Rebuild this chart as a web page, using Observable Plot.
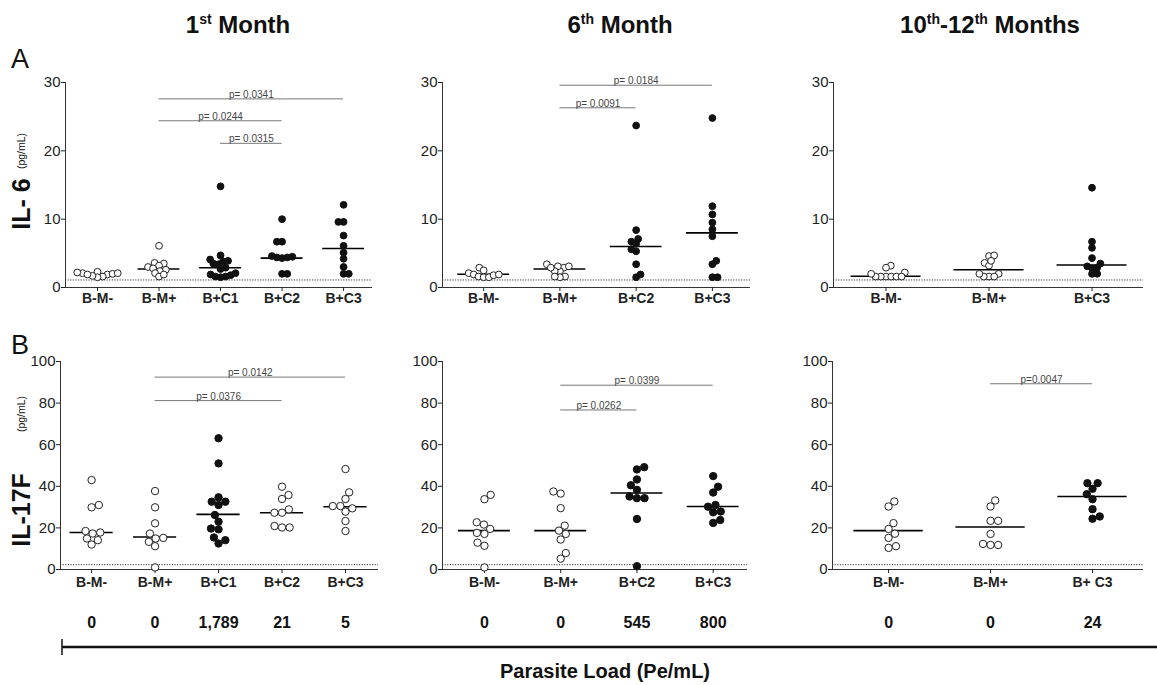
<!DOCTYPE html>
<html>
<head>
<meta charset="utf-8">
<script src="https://cdn.jsdelivr.net/npm/d3@7"></script>
<script src="https://cdn.jsdelivr.net/npm/@observablehq/plot@0.6"></script>
<style>
  body { margin: 0; background: #fff; }
  #chart { position: relative; width: 1157px; height: 685px; font-family: "Liberation Sans", Arial, sans-serif; }
  #chart svg { position: absolute; }
</style>
</head>
<body>
<div id="chart"></div>
<script>
// ---------- categories ----------
const cats_m1 = ["B-M-", "B-M+", "B+C1", "B+C2", "B+C3"];
const cats_m6 = ["B-M-", "B-M+", "B+C2", "B+C3"];
const cats_m12 = ["B-M-", "B-M+", "B+C3"];
const labels_m12_il17 = ["B-M-", "B-M+", "B+ C3"];

// ---------- IL-6 (pg/mL) ----------
const il6_m1_BMneg = [2.3, 2.1, 2.2, 1.9, 1.6, 1.5, 1.7, 1.9, 2.0, 2.1];
const il6_m1_BMpos = [6.1, 3.6, 3.5, 3.2, 3.0, 2.8, 2.6, 2.4, 2.1, 1.6, 1.9];
const il6_m1_C1 = [14.8, 4.7, 4.1, 3.9, 3.8, 3.5, 3.4, 2.9, 2.7, 2.1, 1.8, 1.6, 1.5, 1.6, 1.9];
const il6_m1_C2 = [10.0, 6.7, 6.7, 4.6, 4.5, 4.4, 4.4, 4.3, 2.0, 2.0];
const il6_m1_C3 = [12.1, 9.6, 9.6, 7.6, 6.1, 5.1, 4.2, 3.0, 2.0, 2.0];
const il6_m1_median = [2.0, 2.7, 2.9, 4.3, 5.7];

const il6_m6_BMneg = [2.9, 2.1, 1.9, 1.6, 1.5, 1.5, 1.8, 1.9, 2.5];
const il6_m6_BMpos = [2.9, 2.4, 3.1, 3.1, 3.4, 2.4, 2.9, 1.6, 1.5, 1.6];
const il6_m6_C2 = [23.7, 8.4, 7.1, 6.7, 6.4, 5.6, 5.3, 3.4, 1.5, 1.9];
const il6_m6_C3 = [24.8, 11.9, 10.7, 9.5, 8.5, 7.5, 3.9, 3.4, 1.5, 1.5];
const il6_m6_median = [1.95, 2.7, 6.0, 8.0];

const il6_m12_BMneg = [2.2, 1.6, 1.6, 1.6, 1.6, 1.6, 1.6, 3.2, 2.0, 2.9];
const il6_m12_BMpos = [4.6, 4.7, 3.6, 3.2, 3.9, 2.0, 1.6, 1.6, 1.6, 2.0];
const il6_m12_C3 = [14.6, 6.7, 5.8, 4.3, 3.1, 2.8, 2.0, 2.0, 2.9, 3.5];
const il6_m12_median = [1.65, 2.6, 3.3];

// ---------- IL-17F (pg/mL) ----------
const il17_m1_BMneg = [43.0, 29.9, 31.0, 17.3, 14.9, 12.0, 17.8, 14.1, 18.5];
const il17_m1_BMpos = [37.7, 29.9, 22.2, 17.3, 15.2, 13.3, 11.2, 14.9, 1.0];
const il17_m1_C1 = [63.1, 51.0, 32.6, 32.6, 31.0, 34.7, 26.2, 23.0, 19.7, 19.3, 15.4, 14.1, 12.5];
const il17_m1_C2 = [39.8, 35.8, 33.9, 27.3, 27.3, 28.9, 20.9, 20.2, 20.2];
const il17_m1_C3 = [48.3, 37.1, 33.9, 30.5, 27.8, 29.4, 30.5, 23.3, 18.5];
const il17_m1_median = [17.8, 15.6, 26.5, 27.3, 30.2];

const il17_m6_BMneg = [33.8, 35.9, 22.7, 21.6, 19.5, 17.1, 17.6, 12.9, 11.4, 1.0];
const il17_m6_BMpos = [36.5, 37.5, 29.5, 21.1, 17.1, 18.7, 14.4, 7.9, 5.2];
const il17_m6_C2 = [48.1, 49.2, 43.3, 40.5, 38.3, 35.1, 34.3, 34.3, 24.3, 1.6];
const il17_m6_C3 = [44.9, 39.8, 37.0, 31.0, 30.2, 27.9, 27.5, 23.8, 22.4];
const il17_m6_median = [18.7, 18.7, 36.8, 30.3];

const il17_m12_BMneg = [32.7, 30.3, 22.3, 17.2, 19.5, 15.2, 10.4, 11.2];
const il17_m12_BMpos = [33.2, 30.3, 23.4, 23.4, 17.1, 12.3, 11.8, 11.8];
const il17_m12_C3 = [41.5, 41.5, 38.8, 36.2, 33.8, 29.0, 24.4, 25.5];
const il17_m12_median = [18.7, 20.4, 35.1];

// ---------- filled (infected) flags ----------
const filled_il6_m1 = [false, false, true, true, true];
const filled_il17_m1 = [false, false, true, false, false];
const filled_m6 = [false, false, true, true];
const filled_m12 = [false, false, true];

// ---------- significance brackets ----------
const brackets_il6_m1 = [
  {from: "B-M+", to: "B+C3", y: 27.6, label: "p= 0.0341"},
  {from: "B-M+", to: "B+C2", y: 24.4, label: "p= 0.0244"},
  {from: "B+C1", to: "B+C2", y: 21.1, label: "p= 0.0315"}
];
const brackets_il6_m6 = [
  {from: "B-M+", to: "B+C3", y: 29.6, label: "p= 0.0184"},
  {from: "B-M+", to: "B+C2", y: 26.3, label: "p= 0.0091"}
];
const brackets_il17_m1 = [
  {from: "B-M+", to: "B+C3", y: 92.5, label: "p= 0.0142"},
  {from: "B-M+", to: "B+C2", y: 81.2, label: "p= 0.0376"}
];
const brackets_il17_m6 = [
  {from: "B-M+", to: "B+C3", y: 88.6, label: "p= 0.0399"},
  {from: "B-M+", to: "B+C2", y: 76.7, label: "p= 0.0262"}
];
const brackets_il17_m12 = [
  {from: "B-M+", to: "B+C3", y: 89.3, label: "p=0.0047"}
];

// ---------- parasite load (Pe/mL) ----------
const load_m1 = ["0", "0", "1,789", "21", "5"];
const load_m6 = ["0", "0", "545", "800"];
const load_m12 = ["0", "0", "24"];

// ---------- detection limits ----------
const lod_il6 = 1.1;
const lod_il17 = 2.3;

const ticks_il6 = [0, 10, 20, 30];
const ticks_il17 = [0, 20, 40, 60, 80, 100];

// ---------- helpers ----------
const FONT = '"Liberation Sans", Arial, sans-serif';

function swarm(values, pxPerY, D) {
  const order = d3.range(values.length).sort((a, b) => values[a] - values[b]);
  const placed = [];
  const out = new Array(values.length);
  for (const i of order) {
    const y = values[i] * pxPerY;
    const near = placed.filter(p => Math.abs(p.y - y) < D);
    const cands = [0];
    for (const p of near) {
      const dx = Math.sqrt(D * D - (p.y - y) ** 2);
      cands.push(p.x + dx, p.x - dx);
    }
    const sgn = placed.length % 2 ? 1 : -1;
    cands.sort((a, b) => (Math.abs(a) - Math.abs(b)) || (sgn * (b - a)));
    let x = 0;
    for (const c of cands) {
      if (near.every(p => (p.x - c) ** 2 + (p.y - y) ** 2 >= D * D - 1e-6)) { x = c; break; }
    }
    placed.push({x, y});
    out[i] = x;
  }
  return out;
}

function panel(cfg) {
  const {cats, labels, groups, filled, medians, brackets, ymax, yticks, lod,
         left, top, width, height, mt, mb, ml, mr, pad0, pad1, r, D, loads} = cfg;
  const n = cats.length;
  const x0 = -pad0, x1 = n - 1 + pad1;
  const k = (width - ml - mr) / (x1 - x0);
  const pxY = (height - mt - mb) / ymax;
  const pts = [];
  groups.forEach((vals, i) => {
    const offs = swarm(vals, pxY, D);
    vals.forEach((v, j) => pts.push({i, v, x: i + offs[j] / k, filled: filled[i]}));
  });
  const idx = c => cats.indexOf(c);
  const marks = [
    Plot.ruleY([lod], {x1: x0, x2: x1, stroke: "#333", strokeWidth: 1, strokeDasharray: "1.2,1.4"}),
    Plot.ruleX([x0], {y1: 0, y2: ymax, stroke: "#333", strokeWidth: 1}),
    Plot.ruleY([0], {x1: x0, x2: x1, stroke: "#333", strokeWidth: 1}),
    Plot.axisY({ticks: yticks, tickSize: 4, tickPadding: 1, fontSize: 15, tickFormat: d3.format("d"), label: null}),
    Plot.axisX({ticks: d3.range(n), tickFormat: i => labels[i], tickSize: 4, tickPadding: cfg.xpad ?? 2, fontSize: 14, fontWeight: "bold", label: null}),
    Plot.ruleY(brackets, {x1: d => idx(d.from), x2: d => idx(d.to), y: "y", stroke: "#777", strokeWidth: 1}),
    Plot.text(brackets, {x: d => (idx(d.from) + idx(d.to)) / 2, y: "y", text: "label", lineAnchor: "bottom", dy: -1, fontSize: 10, fill: "#444"}),
    Plot.ruleY(medians, {x1: (d, i) => i - 0.34, x2: (d, i) => i + 0.34, y: d => d, stroke: "#000", strokeWidth: 1.6}),
    Plot.dot(pts.filter(d => !d.filled), {x: "x", y: "v", r, fill: "#fff", stroke: "#222", strokeWidth: 1}),
    Plot.dot(pts.filter(d => d.filled), {x: "x", y: "v", r, fill: "#111", stroke: "#111", strokeWidth: 1})
  ];
  if (loads) {
    marks.push(Plot.text(loads, {x: (d, i) => i, text: d => d, frameAnchor: "bottom", dy: 58, fontSize: 16, fontWeight: "bold", fill: "#111"}));
  }
  const svg = Plot.plot({
    width, height,
    marginTop: mt, marginBottom: mb, marginLeft: ml, marginRight: mr,
    x: {domain: [x0, x1], label: null},
    y: {domain: [0, ymax], label: null},
    style: {fontFamily: FONT, color: "#222", background: "transparent", overflow: "visible"},
    marks
  });
  svg.style.left = left + "px";
  svg.style.top = top + "px";
  return svg;
}

const chart = document.getElementById("chart");
const rowA = {top: 70, height: 245, mt: 12, mb: 28, ymax: 30, yticks: ticks_il6, lod: lod_il6, r: 3.4, D: 5.2};
const rowB = {top: 350, height: 290, mt: 11, mb: 71, ymax: 100, yticks: ticks_il17, lod: lod_il17, r: 3.7, D: 7.6, xpad: 4};

chart.append(panel({...rowA, cats: cats_m1, labels: cats_m1,
  groups: [il6_m1_BMneg, il6_m1_BMpos, il6_m1_C1, il6_m1_C2, il6_m1_C3],
  filled: filled_il6_m1, medians: il6_m1_median, brackets: brackets_il6_m1,
  left: 0, width: 380, ml: 65, mr: 8, pad0: 0.52, pad1: 0.47}));
chart.append(panel({...rowA, cats: cats_m6, labels: cats_m6,
  groups: [il6_m6_BMneg, il6_m6_BMpos, il6_m6_C2, il6_m6_C3],
  filled: filled_m6, medians: il6_m6_median, brackets: brackets_il6_m6,
  left: 400, width: 360, ml: 42, mr: 10, pad0: 0.54, pad1: 0.5}));
chart.append(panel({...rowA, cats: cats_m12, labels: cats_m12,
  groups: [il6_m12_BMneg, il6_m12_BMpos, il6_m12_C3],
  filled: filled_m12, medians: il6_m12_median, brackets: [],
  left: 780, width: 377, ml: 53, mr: 14, pad0: 0.51, pad1: 0.5}));

chart.append(panel({...rowB, cats: cats_m1, labels: cats_m1,
  groups: [il17_m1_BMneg, il17_m1_BMpos, il17_m1_C1, il17_m1_C2, il17_m1_C3],
  filled: filled_il17_m1, medians: il17_m1_median, brackets: brackets_il17_m1, loads: load_m1,
  left: 0, width: 390, ml: 60, mr: 12, pad0: 0.49, pad1: 0.52}));
chart.append(panel({...rowB, cats: cats_m6, labels: cats_m6,
  groups: [il17_m6_BMneg, il17_m6_BMpos, il17_m6_C2, il17_m6_C3],
  filled: filled_m6, medians: il17_m6_median, brackets: brackets_il17_m6, loads: load_m6,
  left: 400, width: 360, ml: 42, mr: 13, pad0: 0.55, pad1: 0.45}));
chart.append(panel({...rowB, cats: cats_m12, labels: labels_m12_il17,
  groups: [il17_m12_BMneg, il17_m12_BMpos, il17_m12_C3],
  filled: filled_m12, medians: il17_m12_median, brackets: brackets_il17_m12, loads: load_m12,
  left: 780, width: 377, ml: 52, mr: 14, pad0: 0.55, pad1: 0.5}));

// ---------- overlay annotations ----------
const ov = d3.create("svg").attr("width", 1157).attr("height", 685)
  .style("left", "0px").style("top", "0px").style("pointer-events", "none")
  .attr("font-family", FONT).attr("fill", "#111");

function header(x, parts) {
  const t = ov.append("text").attr("x", x).attr("y", 33).attr("text-anchor", "middle")
    .attr("font-weight", "bold").attr("font-size", 24);
  let raised = false;
  for (const [s, sup] of parts) {
    let dy = 0;
    if (sup && !raised) { dy = -9; raised = true; }
    else if (!sup && raised) { dy = 9; raised = false; }
    t.append("tspan").attr("font-size", sup ? 14 : 24).attr("dy", dy).text(s);
  }
}
header(238, [["1", false], ["st", true], [" Month", false]]);
header(620, [["6", false], ["th", true], [" Month", false]]);
header(990, [["10", false], ["th", true], ["-12", false], ["th", true], [" Months", false]]);

ov.append("text").attr("x", 11).attr("y", 68).attr("font-size", 27).text("A");
ov.append("text").attr("x", 11).attr("y", 354).attr("font-size", 27).text("B");

function ylab(x, y, s, size, weight) {
  ov.append("text").attr("transform", `translate(${x},${y}) rotate(-90)`)
    .attr("text-anchor", "middle").attr("font-size", size).attr("font-weight", weight).text(s);
}
ylab(30, 204, "IL- 6", 25, "bold");
ylab(25, 151, "(pg/mL)", 10.5, "normal");
ylab(30, 510, "IL-17F", 25, "bold");
ylab(25, 414, "(pg/mL)", 10.5, "normal");

ov.append("line").attr("x1", 62).attr("x2", 1157).attr("y1", 647).attr("y2", 647)
  .attr("stroke", "#111").attr("stroke-width", 2.5);
ov.append("line").attr("x1", 62).attr("x2", 62).attr("y1", 639).attr("y2", 655)
  .attr("stroke", "#111").attr("stroke-width", 1.5);
ov.append("text").attr("x", 605).attr("y", 678).attr("text-anchor", "middle")
  .attr("font-size", 20).attr("font-weight", "bold").text("Parasite Load (Pe/mL)");

chart.append(ov.node());
</script>
</body>
</html>
